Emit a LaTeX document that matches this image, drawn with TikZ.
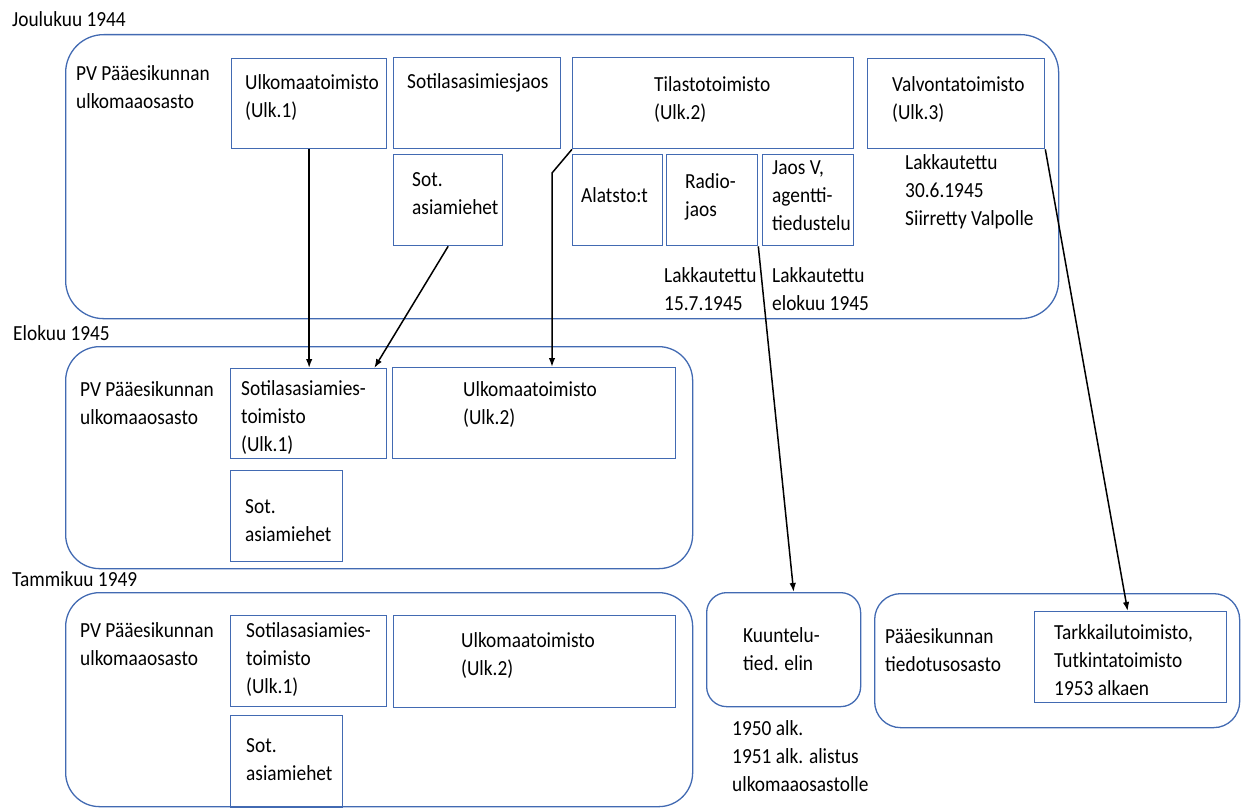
\documentclass[tikz,border=0pt]{standalone}
\usepackage{fontspec}
\setmainfont{Carlito}[FakeStretch=0.9]
\usetikzlibrary{arrows.meta}

\definecolor{boxcolor}{RGB}{66,106,178}

\begin{document}
\begin{tikzpicture}[x=1pt, y=-1pt, >={Latex[length=9pt,width=6.5pt]},
        font=\fontsize{21.5}{28}\selectfont]
        \tikzset{
            grpbox/.style={draw=boxcolor, line width=1.3pt, rounded corners=38pt, anchor=north west, inner sep=0pt},
            unitbox/.style={draw=boxcolor, line width=1.3pt, anchor=north west, inner sep=0pt},
            txt/.style={anchor=base west, inner sep=0pt, align=left},
            link/.style={->, line width=1.5pt}
        }
        \useasboundingbox (0,0) rectangle (1242,810);

        % --- Joulukuu 1944 ---
        % (txt-solmujen koordinaatti = viimeisen rivin perusviiva)
        \node[txt] (t44) at (12,27) {Joulukuu 1944};
        \node[grpbox, minimum width=993pt, minimum height=284pt] (g44) at (65,34) {};
        \node[txt] (pv44) at (76,109) {PV Pääesikunnan\\ulkomaaosasto};

        \node[unitbox, minimum width=155pt, minimum height=90pt] (ulk44) at (231,58) {};
        \node[txt] (ulk44t) at (245,118) {Ulkomaatoimisto\\(Ulk.1)};
        \node[unitbox, minimum width=167pt, minimum height=91pt] (sotj44) at (393,57) {};
        \node[txt] (sotj44t) at (407,89) {Sotilasasimiesjaos};
        \node[unitbox, minimum width=281pt, minimum height=91pt] (tilasto44) at (572,57) {};
        \node[txt] (tilasto44t) at (654,120) {Tilastotoimisto\\(Ulk.2)};
        \node[unitbox, minimum width=177pt, minimum height=90pt] (valvonta44) at (867,58) {};
        \node[txt] (valvonta44t) at (892,120) {Valvontatoimisto\\(Ulk.3)};

        % alayksiköt
        \node[unitbox, minimum width=109pt, minimum height=91pt] (sot44) at (393,154) {};
        \node[txt] (sot44t) at (412,215) {Sot.\\asiamiehet};
        \node[unitbox, minimum width=90pt, minimum height=91pt] (alatsto44) at (572,154) {};
        \node[txt] (alatsto44t) at (581,203) {Alatsto:t};
        \node[unitbox, minimum width=91pt, minimum height=91pt] (radio44) at (666,154) {};
        \node[txt] (radio44t) at (685,217) {Radio-\\jaos};
        \node[unitbox, minimum width=91pt, minimum height=91pt] (jaosv44) at (762,154) {};
        \node[txt] (jaosv44t) at (772,231) {Jaos V,\\agentti-\\tiedustelu};

        % huomautukset
        \node[txt] (lakk1) at (664,310) {Lakkautettu\\15.7.1945};
        \node[txt] (lakk2) at (772,310) {Lakkautettu\\elokuu 1945};
        \node[txt] (lakk3) at (905,226) {Lakkautettu\\30.6.1945\\Siirretty Valpolle};

        % --- Elokuu 1945 ---
        \node[txt] (t45) at (13,340) {Elokuu 1945};
        \node[grpbox, minimum width=627pt, minimum height=222pt, rounded corners=34pt] (g45) at (65,346) {};
        \node[txt] (pv45) at (80,424) {PV Pääesikunnan\\ulkomaaosasto};

        \node[unitbox, minimum width=156pt, minimum height=90pt] (sotil45) at (230,368) {};
        \node[txt] (sotil45t) at (241,451) {Sotilasasiamies-\\toimisto\\(Ulk.1)};
        \node[unitbox, minimum width=283pt, minimum height=91pt] (ulk45) at (392,367) {};
        \node[txt] (ulk45t) at (463,424) {Ulkomaatoimisto\\(Ulk.2)};
        \node[unitbox, minimum width=112pt, minimum height=91pt] (sot45) at (230,470) {};
        \node[txt] (sot45t) at (245,541) {Sot.\\asiamiehet};

        % --- Tammikuu 1949 ---
        \node[txt] (t49) at (12,586) {Tammikuu 1949};
        \node[grpbox, minimum width=627pt, minimum height=214pt, rounded corners=34pt] (g49) at (65,592) {};
        \node[txt] (pv49) at (80,665) {PV Pääesikunnan\\ulkomaaosasto};

        \node[unitbox, minimum width=156pt, minimum height=91pt] (sotil49) at (230,615) {};
        \node[txt] (sotil49t) at (246,693) {Sotilasasiamies-\\toimisto\\(Ulk.1)};
        \node[unitbox, minimum width=282pt, minimum height=92pt] (ulk49) at (393,615) {};
        \node[txt] (ulk49t) at (461,675) {Ulkomaatoimisto\\(Ulk.2)};
        \node[unitbox, minimum width=112pt, minimum height=92pt] (sot49) at (230,715) {};
        \node[txt] (sot49t) at (246,780) {Sot.\\asiamiehet};

        % Kuuntelu ja tiedotusosasto
        \node[grpbox, minimum width=154pt, minimum height=114pt, rounded corners=20pt] (kuuntelu) at (706,592) {};
        \node[txt] (kuuntelut) at (743,670) {Kuuntelu-\\tied. elin};
        \node[txt] (alk) at (732,791) {1950 alk.\\1951 alk. alistus\\ulkomaaosastolle};

        \node[grpbox, minimum width=365pt, minimum height=134pt, rounded corners=26pt] (tied) at (874,593) {};
        \node[txt] (tiedt) at (885,671) {Pääesikunnan\\tiedotusosasto};
        \node[unitbox, minimum width=192pt, minimum height=91pt] (tarkk) at (1034,611) {};
        \node[txt] (tarkkt) at (1054,695) {Tarkkailutoimisto,\\Tutkintatoimisto\\1953 alkaen};

        % Arrows
        \coordinate (kink) at (552,173);
        \draw[link] (ulk44.south) -- (ulk44.south |- sotil45.north);
        \draw[link] (sot44.south) -- ([xshift=-13pt]sotil45.north east);
        \draw[link] (tilasto44.south west) -- (kink) -- (kink |- ulk45.north);
        \draw[link] (radio44.south east) -- ([xshift=10pt]kuuntelu.north);
        \draw[link] (valvonta44.south east) -- ([xshift=-3pt]tarkk.north);
    \end{tikzpicture}
\end{document}
